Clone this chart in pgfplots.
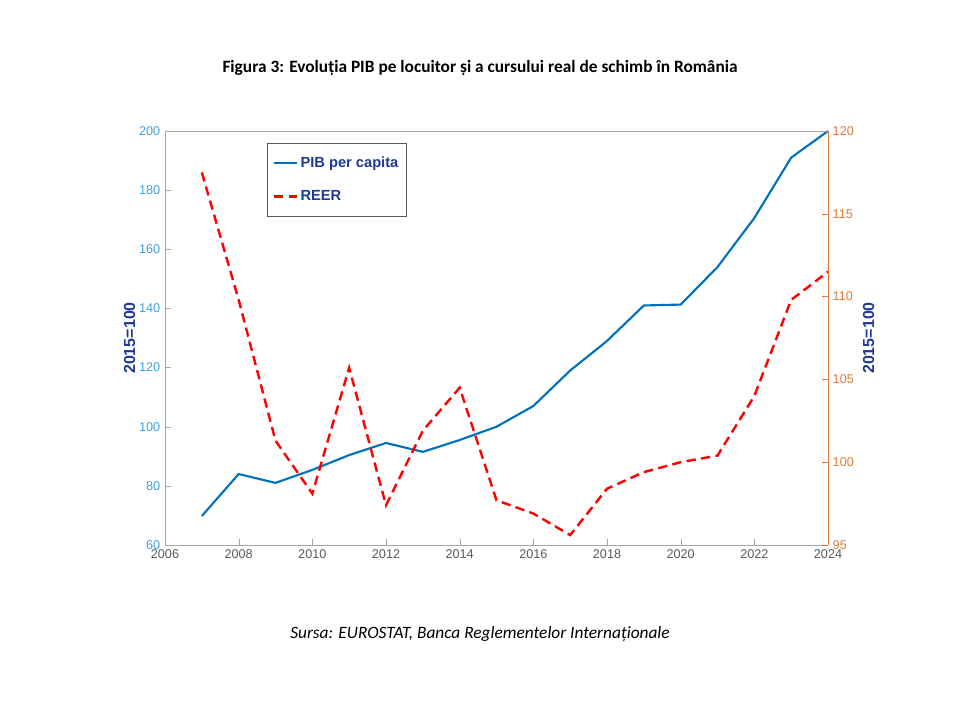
\documentclass[border=0pt]{standalone}
\usepackage{pgfplots}
\pgfplotsset{compat=1.18}
\usepackage{fontspec}
\setmainfont{Liberation Sans}
\newfontfamily\calibri{Carlito}
\definecolor{mblue}{HTML}{0072BD}
\definecolor{lblue}{HTML}{3F9FD8}
\definecolor{morange}{HTML}{E07A3C}
\definecolor{navy}{HTML}{1F3A93}
\begin{document}
\begin{tikzpicture}
\path (0pt,0pt) rectangle (720pt,533.25pt);
\node[font=\calibri\bfseries\fontsize{13}{15}\selectfont] at (360pt,482.25pt) {Figura 3: Evoluția PIB pe locuitor și a cursului real de schimb în România};
\node[font=\calibri\itshape\fontsize{13}{15}\selectfont] at (360pt,57.75pt) {Sursa: EUROSTAT, Banca Reglementelor Internaționale};
\begin{axis}[at={(123.75pt,124.5pt)}, anchor=south west, scale only axis,
 width=497.25pt, height=310.5pt,
 xmin=2006, xmax=2024, ymin=60, ymax=200,
 xtick={2006,2008,...,2024}, ytick={60,80,...,200},
 axis y line*=left, axis x line*=bottom,
 /pgf/number format/1000 sep={}, /pgf/number format/assume math mode=true,
 tick label style={font=\fontsize{9.5}{11}\selectfont},
 yticklabel style={lblue}, xticklabel style={gray!70!black},
 tick align=inside, axis line style={gray!70}, major tick style={gray!70},
 ylabel={\textbf{2015=100}}, ylabel style={navy, font=\fontsize{12}{14}\selectfont\bfseries, yshift=-4pt}]
\addplot[mblue, line width=1.6pt] coordinates {(2007,69.8)(2008,84)(2009,81)(2010,85.4)(2011,90.4)(2012,94.5)(2013,91.5)(2014,95.5)(2015,100)(2016,107)(2017,119)(2018,129)(2019,141)(2020,141.3)(2021,154)(2022,170.6)(2023,191)(2024,200)};
\end{axis}
\begin{axis}[at={(123.75pt,124.5pt)}, anchor=south west, scale only axis,
 width=497.25pt, height=310.5pt,
 xmin=2006, xmax=2024, ymin=95, ymax=120,
 ytick={95,100,...,120}, xtick=\empty,
 axis y line*=right, axis x line*=top,
 /pgf/number format/assume math mode=true,
 tick label style={font=\fontsize{9.5}{11}\selectfont},
 yticklabel style={morange}, tick align=inside,
 y axis line style={morange}, x axis line style={gray!70}, major tick style={morange},
 ylabel={\textbf{2015=100}}, ylabel style={navy, font=\fontsize{12}{14}\selectfont\bfseries},
 legend style={at={(0.154,0.971)}, anchor=north west, draw=gray!70!black, font=\fontsize{11}{13}\selectfont\bfseries\color{navy}, inner xsep=4pt, inner ysep=8pt, row sep=12pt},
 legend cell align=left]
\addlegendimage{mblue, line width=1.6pt}
\addlegendentry{PIB per capita\hspace{18pt}}
\addplot[red, dashed, line width=1.8pt, dash pattern=on 7pt off 4pt] coordinates {(2007,117.5)(2008,109.8)(2009,101.3)(2010,98.1)(2011,105.7)(2012,97.4)(2013,101.9)(2014,104.5)(2015,97.7)(2016,96.9)(2017,95.6)(2018,98.4)(2019,99.4)(2020,100)(2021,100.4)(2022,104)(2023,109.8)(2024,111.5)};
\addlegendentry{REER}
\end{axis}
\end{tikzpicture}
\end{document}
